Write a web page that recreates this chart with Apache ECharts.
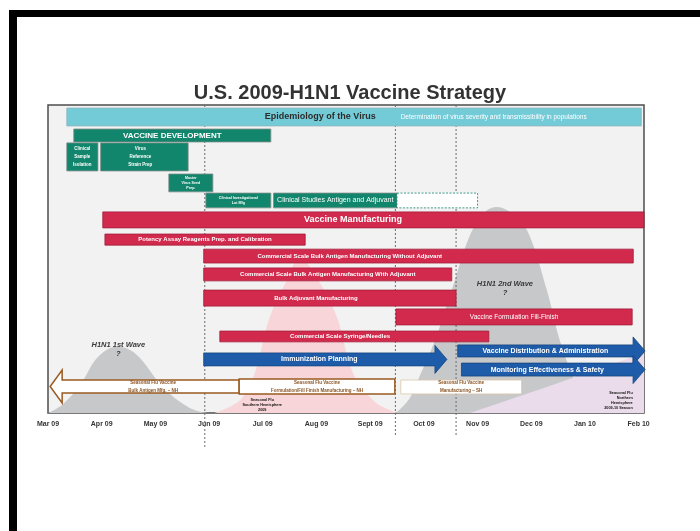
<!DOCTYPE html>
<html>
<head>
<meta charset="utf-8">
<title>U.S. 2009-H1N1 Vaccine Strategy</title>
<script src="https://cdn.jsdelivr.net/npm/echarts@6/dist/echarts.min.js"></script>
<style>
  html, body { margin: 0; padding: 0; background: #fff; }
  #chart { width: 700px; height: 531px; }
</style>
</head>
<body>
<div id="chart"></div>
<script>
// x: months counted from 1 Mar 2009 (0) to 1 Feb 2010 (11)
// y: lane position, 0 = top of the frame, 100 = bottom
var monthLabels = ['Mar 09', 'Apr 09', 'May 09', 'Jun 09', 'Jul 09', 'Aug 09',
  'Sept 09', 'Oct 09', 'Nov 09', 'Dec 09', 'Jan 10', 'Feb 10'];

var taskNames = [
  'Epidemiology of the Virus',
  'VACCINE DEVELOPMENT',
  'Clinical\nSample\nIsolation',
  'Virus\nReference\nStrain Prep',
  'Master\nVirus Seed\nPrep.',
  'Clinical Investigational\nLot Mfg',
  'Clinical Studies Antigen and Adjuvant',
  '',
  'Vaccine Manufacturing',
  'Potency Assay Reagents Prep. and Calibration',
  'Commercial Scale Bulk Antigen Manufacturing Without Adjuvant',
  'Commercial Scale Bulk Antigen Manufacturing With Adjuvant',
  'Bulk Adjuvant Manufacturing',
  'Vaccine Formulation Fill-Finish',
  'Commercial Scale Syringe/Needles',
  'Immunization Planning',
  'Vaccine Distribution & Administration',
  'Monitoring Effectiveness & Safety',
  'Seasonal Flu Vaccine\nBulk Antigen Mfg. \u2013 NH',
  'Seasonal Flu Vaccine\nFormulation/Fill Finish Manufacturing \u2013 NH',
  'Seasonal Flu Vaccine\nManufacturing \u2013 SH'
];
var taskGroup = ['epi', 'dev', 'dev', 'dev', 'dev', 'dev', 'dev', 'devPlanned',
  'mfg', 'mfg', 'mfg', 'mfg', 'mfg', 'mfg', 'mfg',
  'imm', 'imm', 'imm', 'seasonArrow', 'season', 'seasonSH'];
var taskStart = [0.35, 0.48, 0.35, 0.98, 2.25, 2.94, 4.2, 6.5,
  1.02, 1.06, 2.9, 2.9, 2.9, 6.48, 3.2,
  2.9, 7.63, 7.7, 0.04, 3.56, 6.57];
var taskEnd = [11.05, 4.15, 0.93, 2.61, 3.07, 4.15, 6.5, 8.0,
  11.1, 4.79, 10.9, 7.52, 7.6, 10.88, 8.21,
  7.43, 11.12, 11.12, 3.56, 6.46, 8.82];
var taskTop = [1.0, 7.8, 12.3, 12.3, 22.4, 28.6, 28.6, 28.6,
  34.7, 41.9, 46.8, 52.9, 60.1, 66.2, 73.4,
  80.5, 77.9, 83.8, 89.3, 89.0, 89.3];
var taskBottom = [6.8, 12.0, 21.4, 21.4, 28.2, 33.4, 33.4, 33.4,
  39.9, 45.5, 51.3, 57.1, 65.3, 71.4, 76.9,
  84.7, 81.8, 88.0, 93.5, 93.8, 93.8];
// month where the label is centred (null = middle of the bar)
var taskLabelAt = [5.07, null, null, 1.72, null, null, null, null,
  5.68, null, 5.62, null, 4.99, null, 5.44,
  null, null, null, 1.96, null, null];

// epidemic curves: [month, lane]
var wave1 = [[0, 100], [0.26, 97.4], [0.6, 90.9], [0.88, 82.8], [1.12, 79.2], [1.28, 78.6],
  [1.49, 79.2], [1.71, 82.1], [2.14, 91.6], [2.64, 98.4], [2.96, 100]];
var waveSouth = [[3.11, 100], [3.58, 95.8], [3.85, 87.0], [4.13, 68.8], [4.45, 56.8], [4.69, 49.7],
  [5.03, 56.8], [5.38, 68.8], [5.68, 87.0], [6.09, 96.4], [6.52, 100]];
var wave2 = [[6.48, 100], [6.74, 95.1], [6.93, 87.7], [7.21, 76.3], [7.52, 60.1], [7.86, 42.2],
  [8.14, 34.7], [8.36, 33.1], [8.6, 34.7], [8.92, 40.6], [9.29, 60.1], [9.53, 76.3],
  [9.85, 90.9], [10.19, 100]];
var seasonNorth = [[7.86, 100], [9.3, 91.5], [11.1, 80.5]];

// dashed date markers
var markerMonth = [2.92, 6.47, 7.6];
var markerEnd = [111, 107.5, 107.5];

// free notes
var noteText = [
  'Determination of virus severity and transmissibility in populations',
  'H1N1 1st Wave\n?',
  'H1N1 2nd Wave\n?',
  'Seasonal Flu\nSouthern Hemisphere\n2009',
  'Seasonal Flu\nNorthern\nHemisphere\n2009-10 Season'
];
var noteMonth = [8.3, 1.31, 8.51, 3.99, 10.89];
var noteLane = [3.9, 79.3, 59.6, 97.4, 95.9];

var SANS = '"Liberation Sans", Arial, sans-serif';
var NARROW = '"Liberation Sans Narrow", "Liberation Sans", sans-serif';

var groupStyle = {
  epi: { fill: '#74cbd8', stroke: '#8fb4ba', text: '#2b2b2b', font: 'bold 9px ' + SANS },
  dev: { fill: '#12866c', stroke: '#7d8c88', text: '#fff', font: 'bold 4.5px ' + SANS },
  devPlanned: { fill: '#fff', stroke: '#12866c', dash: [2, 1.5], text: '#fff', font: '6px ' + SANS },
  mfg: { fill: '#d22a4d', stroke: '#a31c38', text: '#fff', font: 'bold 6px ' + SANS },
  imm: { fill: '#1e5ba8', stroke: '#17467f', text: '#fff', font: 'bold 7px ' + SANS },
  seasonArrow: { fill: '#fff', stroke: '#9a5b22', width: 1.5, text: '#8a5424', font: 'bold 4.5px ' + SANS },
  season: { fill: '#fff', stroke: '#9a5b22', width: 1.5, text: '#8a5424', font: 'bold 4.5px ' + SANS },
  seasonSH: { fill: '#fff', stroke: '#dcc7ad', width: 0.8, text: '#8a5424', font: 'bold 4.5px ' + SANS }
};
var fontOverride = {
  'VACCINE DEVELOPMENT': 'bold 8px ' + SANS,
  'Clinical Studies Antigen and Adjuvant': '7px ' + NARROW,
  'Vaccine Manufacturing': 'bold 9px ' + SANS,
  'Vaccine Formulation Fill-Finish': '6.5px ' + NARROW,
  'Master\nVirus Seed\nPrep.': 'bold 3.6px ' + SANS,
  'Clinical Investigational\nLot Mfg': 'bold 3.6px ' + SANS
};

function renderTask(params, api) {
  var i = params.dataIndex;
  var p0 = api.coord([api.value(0), api.value(2)]);
  var p1 = api.coord([api.value(1), api.value(3)]);
  var x0 = p0[0], y0 = p0[1], x1 = p1[0], y1 = p1[1];
  var cy = (y0 + y1) / 2;
  var g = taskGroup[i];
  var st = groupStyle[g];
  var shapeStyle = {
    fill: st.fill, stroke: st.stroke, lineWidth: st.width || 0.8,
    lineDash: st.dash || null
  };
  var children = [];
  var labelX = (x0 + x1) / 2;
  if (g === 'imm') {
    var hl = 12, hh = 14;
    children.push({
      type: 'polygon',
      shape: { points: [[x0, y0], [x1 - hl, y0], [x1 - hl, cy - hh], [x1, cy],
        [x1 - hl, cy + hh], [x1 - hl, y1], [x0, y1]] },
      style: shapeStyle
    });
    labelX = (x0 + x1 - hl) / 2;
  } else if (g === 'seasonArrow') {
    var al = 12, ah = 16.5;
    children.push({
      type: 'polygon',
      shape: { points: [[x1, y0], [x0 + al, y0], [x0 + al, cy - ah], [x0, cy],
        [x0 + al, cy + ah], [x0 + al, y1], [x1, y1]] },
      style: shapeStyle
    });
  } else {
    children.push({
      type: 'rect',
      shape: { x: x0, y: y0, width: x1 - x0, height: y1 - y0 },
      style: shapeStyle
    });
  }
  if (taskLabelAt[i] != null) labelX = api.coord([taskLabelAt[i], 0])[0];
  var name = taskNames[i];
  var lines = name.split('\n').length;
  var lh = lines > 1 ? (g === 'dev' ? (fontOverride[name] ? 4.8 : 8) : 8) : 10;
  children.push({
    type: 'text',
    style: {
      text: name, x: labelX, y: cy, align: 'center', verticalAlign: 'middle',
      fill: st.text, font: fontOverride[name] || st.font, lineHeight: lh
    }
  });
  return { type: 'group', children: children };
}

function renderMarker(params, api) {
  var top = api.coord([api.value(0), 0]);
  var bottom = api.coord([api.value(0), api.value(1)]);
  return {
    type: 'line',
    shape: { x1: top[0], y1: top[1], x2: bottom[0], y2: bottom[1] },
    style: { stroke: '#6b6b6b', lineWidth: 1, lineDash: [2, 2] }
  };
}

var noteStyles = [
  { fill: '#fff', font: '6.5px ' + NARROW, align: 'center', lh: 8 },
  { fill: '#3a3a3a', font: 'italic bold 7.5px ' + SANS, align: 'center', lh: 9 },
  { fill: '#3a3a3a', font: 'italic bold 7.5px ' + SANS, align: 'center', lh: 9 },
  { fill: '#111', font: 'bold 3.8px ' + SANS, align: 'center', lh: 4.6 },
  { fill: '#111', font: 'bold 3.8px ' + SANS, align: 'right', lh: 5 }
];

function renderNote(params, api) {
  var i = params.dataIndex;
  var p = api.coord([api.value(0), api.value(1)]);
  var s = noteStyles[i];
  return {
    type: 'text',
    style: {
      text: noteText[i], x: p[0], y: p[1], align: s.align, verticalAlign: 'middle',
      fill: s.fill, font: s.font, lineHeight: s.lh
    }
  };
}

function areaSeries(points, color) {
  return {
    type: 'line', data: points, smooth: 0.35, symbol: 'none', silent: true, z: 1,
    lineStyle: { width: 0 }, areaStyle: { color: color, opacity: 1, origin: 'end' }
  };
}

var chart = echarts.init(document.getElementById('chart'), null, { renderer: 'canvas' });
chart.setOption({
  backgroundColor: '#fff',
  animation: false,
  title: {
    text: 'U.S. 2009-H1N1 Vaccine Strategy',
    left: 'center', top: 78,
    textStyle: { fontFamily: SANS, fontWeight: 'bold', fontSize: 20, color: '#333' }
  },
  graphic: [
    { type: 'rect', shape: { x: 9, y: 10, width: 691, height: 7 }, style: { fill: '#000' } },
    { type: 'rect', shape: { x: 9, y: 10, width: 8, height: 521 }, style: { fill: '#000' } }
  ],
  grid: {
    left: 48, right: 56, top: 105, bottom: 118, show: true,
    backgroundColor: '#f1f2f1', borderColor: '#4d4d4d', borderWidth: 1.5
  },
  xAxis: {
    type: 'value', min: 0, max: 11.1, interval: 1,
    axisLine: { show: false }, axisTick: { show: false }, splitLine: { show: false },
    axisLabel: {
      margin: 8, color: '#333', fontFamily: SANS, fontWeight: 'bold', fontSize: 7,
      showMaxLabel: false,
      formatter: function (v) { return monthLabels[Math.round(v)] || ''; }
    }
  },
  yAxis: {
    type: 'value', min: 0, max: 100, inverse: true, show: false
  },
  series: [
    areaSeries(wave1, '#c7c8c9'),
    areaSeries(waveSouth, '#f8d5d8'),
    areaSeries(wave2, '#c7c8c9'),
    {
      type: 'line', data: seasonNorth, smooth: false, symbol: 'none', silent: true, z: 1,
      lineStyle: { width: 0 }, areaStyle: { color: '#eadcea', opacity: 1, origin: 'end' }
    },
    {
      type: 'custom', renderItem: renderMarker, z: 2, silent: true,
      data: markerMonth.map(function (m, i) { return [m, markerEnd[i]]; })
    },
    {
      type: 'custom', renderItem: renderTask, z: 3, silent: true,
      encode: { x: [0, 1], y: [2, 3] },
      data: taskStart.map(function (s, i) { return [s, taskEnd[i], taskTop[i], taskBottom[i]]; })
    },
    {
      type: 'custom', renderItem: renderNote, z: 4, silent: true,
      data: noteMonth.map(function (m, i) { return [m, noteLane[i]]; })
    }
  ]
});
</script>
</body>
</html>
